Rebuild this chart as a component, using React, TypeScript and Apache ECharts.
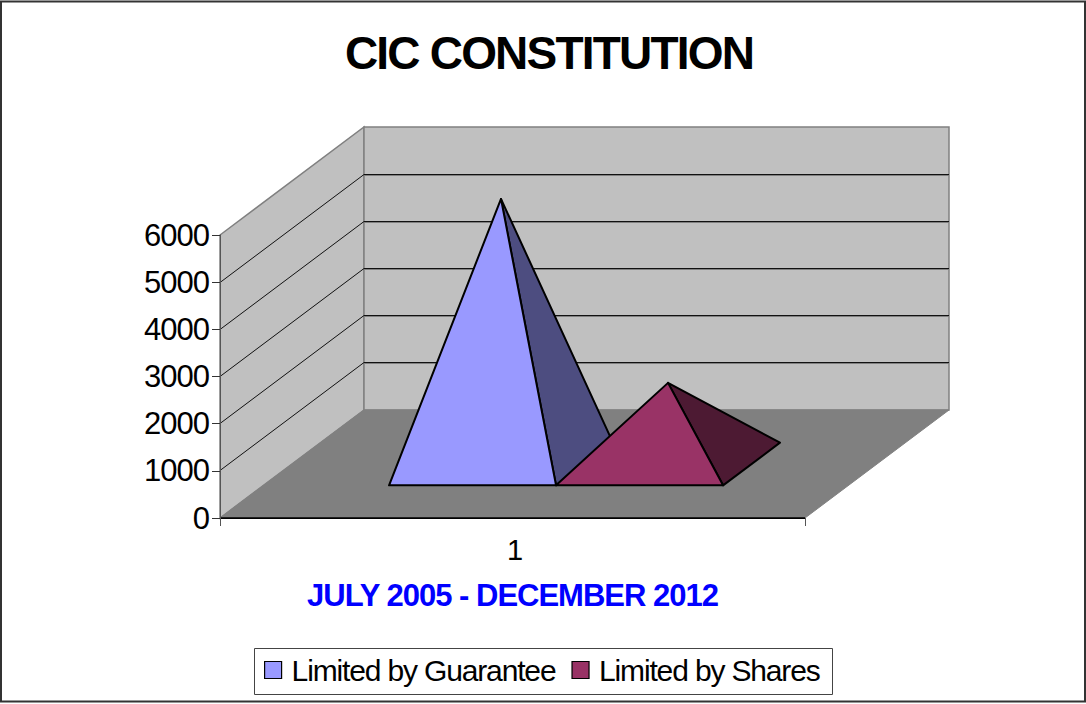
import React, { useEffect, useRef } from "react";
import * as echarts from "echarts";

const categories = ["1"];
const guaranteeValues = [5620];
const sharesValues = [1720];
const seriesNames = ["Limited by Guarantee", "Limited by Shares"];
const frontColors = ["#9999FF", "#993366"];
const sideColors = ["#4D4D80", "#4D1A33"];
const yTicks = [0, 1000, 2000, 3000, 4000, 5000, 6000];
const titleText = "CIC CONSTITUTION";
const subtitleText = "JULY 2005 - DECEMBER 2012";

const FONT = '"Liberation Sans"';
const DEPTH_X = 144;
const DEPTH_Y = -108;
const BAR_DEPTH = 0.395;
const BAR_WIDTH_RATIO = 0.2855;

const renderWalls = (_params: any, api: any) => {
  const band = api.size([1, 0])[0];
  const cx = api.coord([0, 0])[0];
  const x0 = cx - band / 2;
  const x1 = cx + band / 2;
  const y0 = api.coord([0, 0])[1];
  const yTop = api.coord([0, yTicks[yTicks.length - 1]])[1];
  const wallStyle = { fill: "#C0C0C0", stroke: "#808080", lineWidth: 1.5 };
  const children: any[] = [
    {
      type: "polygon",
      shape: { points: [[x0, y0], [x0, yTop], [x0 + DEPTH_X, yTop + DEPTH_Y], [x0 + DEPTH_X, y0 + DEPTH_Y]] },
      style: wallStyle,
    },
    {
      type: "polygon",
      shape: { points: [[x0 + DEPTH_X, y0 + DEPTH_Y], [x0 + DEPTH_X, yTop + DEPTH_Y], [x1 + DEPTH_X, yTop + DEPTH_Y], [x1 + DEPTH_X, y0 + DEPTH_Y]] },
      style: wallStyle,
    },
    {
      type: "polygon",
      shape: { points: [[x0, y0], [x1, y0], [x1 + DEPTH_X, y0 + DEPTH_Y], [x0 + DEPTH_X, y0 + DEPTH_Y]] },
      style: { fill: "#808080", stroke: "#808080", lineWidth: 1 },
    },
  ];
  yTicks.slice(1, -1).forEach((v) => {
    const y = Math.floor(api.coord([0, v])[1]) + 0.5;
    children.push({
      type: "line",
      shape: { x1: x0 + DEPTH_X, y1: y + DEPTH_Y + 1, x2: x1 + DEPTH_X, y2: y + DEPTH_Y + 1 },
      style: { stroke: "#808080", lineWidth: 1 },
    });
    children.push({
      type: "polyline",
      shape: { points: [[x0, y], [x0 + DEPTH_X, y + DEPTH_Y], [x1 + DEPTH_X, y + DEPTH_Y]] },
      style: { fill: "none", stroke: "#111111", lineWidth: 1 },
    });
  });
  children.push({
    type: "line",
    shape: { x1: x0, y1: y0, x2: x1, y2: y0 },
    style: { stroke: "#000000", lineWidth: 1.5 },
  });
  return { type: "group", children };
};

const renderPyramid = (params: any, api: any) => {
  const idx = params.seriesIndex - 1;
  const value = api.value(1);
  const band = api.size([1, 0])[0];
  const base = api.coord([api.value(0), 0]);
  const top = api.coord([api.value(0), value]);
  const w = band * BAR_WIDTH_RATIO;
  const dx = DEPTH_X * BAR_DEPTH;
  const dy = DEPTH_Y * BAR_DEPTH;
  const centerX = base[0] + DEPTH_X * (0.5 - BAR_DEPTH / 2);
  const frontY = base[1] + DEPTH_Y * (0.5 - BAR_DEPTH / 2);
  const left = centerX - w + idx * w;
  const right = left + w;
  const apex = [left + w / 2 + dx / 2, top[1] + DEPTH_Y * 0.5];
  const line = { stroke: "#000000", lineWidth: 2, lineJoin: "round" };
  return {
    type: "group",
    children: [
      {
        type: "polygon",
        shape: { points: [apex, [right, frontY], [right + dx, frontY + dy]] },
        style: { fill: sideColors[idx], ...line },
      },
      {
        type: "polygon",
        shape: { points: [apex, [left, frontY], [right, frontY]] },
        style: { fill: frontColors[idx], ...line },
      },
    ],
  };
};

export default function App() {
  const ref = useRef<HTMLDivElement>(null);

  useEffect(() => {
    const chart = echarts.init(ref.current!, undefined, { renderer: "svg" });
    chart.setOption({
      animation: false,
      backgroundColor: "#FFFFFF",
      textStyle: { fontFamily: FONT },
      title: {
        text: titleText,
        left: 544,
        top: 25,
        textAlign: "center",
        textStyle: { fontFamily: FONT, fontSize: 46, fontWeight: "bold", color: "#000000" },
      },
      graphic: [
        {
          type: "rect",
          z: -1,
          shape: { x: 1, y: 1.5, width: 1084, height: 700 },
          style: { fill: "none", stroke: "#333333", lineWidth: 2 },
        },
        {
          type: "rect",
          z: -1,
          shape: { x: 254.5, y: 648.5, width: 578, height: 46 },
          style: { fill: "#FFFFFF", stroke: "#444444", lineWidth: 1 },
        },
      ],
      legend: {
        data: seriesNames,
        left: 264,
        top: 655,
        padding: 0,
        icon: "rect",
        itemWidth: 17,
        itemHeight: 17,
        itemGap: -7,
        textStyle: { fontFamily: FONT, fontSize: 30, color: "#000000", padding: [0, 0, 0, 5] },
        itemStyle: { borderColor: "#000000", borderWidth: 1.2 },
      },
      grid: { left: 220, right: 281, top: 235, bottom: 186, containLabel: false },
      xAxis: {
        type: "category",
        data: categories,
        name: subtitleText,
        nameLocation: "middle",
        nameGap: 62,
        nameTextStyle: { fontFamily: FONT, fontSize: 31, fontWeight: "bold", color: "#0000FF" },
        z: 5,
        axisLine: { lineStyle: { color: "#000000", width: 1 } },
        axisTick: { show: true, length: 8, lineStyle: { color: "#555555" } },
        axisLabel: { fontFamily: FONT, fontSize: 29, color: "#000000", margin: 17, padding: [0, 0, 0, 5] },
      },
      yAxis: {
        type: "value",
        min: 0,
        max: 6000,
        interval: 1000,
        z: 5,
        axisLine: { show: true, lineStyle: { color: "#555555", width: 1 } },
        axisTick: { show: true, length: 8, lineStyle: { color: "#333333" } },
        splitLine: { show: false },
        axisLabel: {
          fontFamily: FONT,
          fontSize: 31,
          color: "#000000",
          margin: 11,
          formatter: (v: number) => String(v),
        },
      },
      series: [
        {
          type: "custom",
          name: "walls",
          silent: true,
          z: 1,
          data: [[0, 0]],
          renderItem: renderWalls,
        },
        {
          type: "custom",
          name: seriesNames[0],
          z: 2,
          itemStyle: { color: frontColors[0] },
          encode: { x: 0, y: 1 },
          data: guaranteeValues.map((v, i) => [i, v]),
          renderItem: renderPyramid,
        },
        {
          type: "custom",
          name: seriesNames[1],
          z: 3,
          itemStyle: { color: frontColors[1] },
          encode: { x: 0, y: 1 },
          data: sharesValues.map((v, i) => [i, v]),
          renderItem: renderPyramid,
        },
      ],
    });
    return () => chart.dispose();
  }, []);

  return (
    <>
      <style>{`
        body { margin: 0; background: #fff; }
        text[style*="46px"] { letter-spacing: -1.8px; }
        text[style*="31px"] { letter-spacing: -1px; }
        text[style*="bold 31px"] { letter-spacing: -1.4px; }
        text[style*="30px"] { letter-spacing: -1.15px; }
      `}</style>
      <div ref={ref} style={{ width: 1086, height: 704 }} />
    </>
  );
}
